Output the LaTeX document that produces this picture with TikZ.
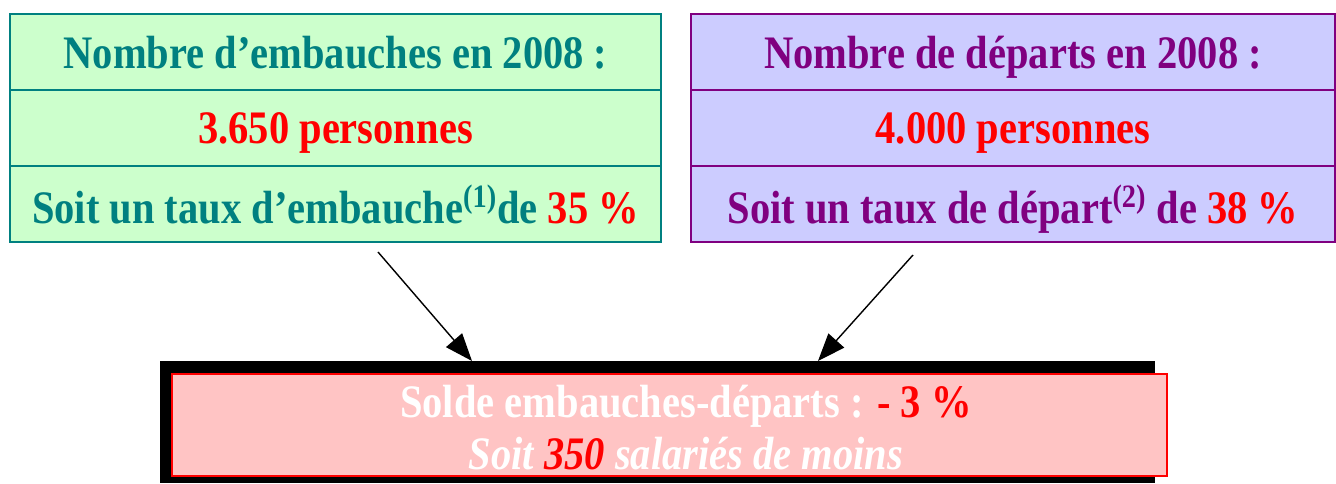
\documentclass[tikz,border=0pt]{standalone}
\usepackage{fontspec}
\setmainfont[FakeStretch=0.87]{Liberation Serif}
\usetikzlibrary{arrows.meta}

\definecolor{embText}{RGB}{0,128,128}
\definecolor{embFill}{RGB}{204,255,204}
\definecolor{depText}{RGB}{128,0,128}
\definecolor{depFill}{RGB}{204,204,255}
\definecolor{soldeFill}{RGB}{255,196,196}

\newcommand{\RowH}{1.52}
\newcommand{\BigFont}{\fontsize{26.5}{30}\selectfont\bfseries}

\tikzset{
  rowbox/.style={draw, line width=1pt, minimum height=\RowH cm, inner sep=0pt,
    text depth=0pt, font=\BigFont},
  embrow/.style={rowbox, draw=embText, fill=embFill, text=embText, minimum width=13.02cm},
  deprow/.style={rowbox, draw=depText, fill=depFill, text=depText, minimum width=12.88cm},
  flow/.style={line width=0.8pt, -{Triangle[length=0.55cm,width=0.42cm]}}
}

\begin{document}
\begin{tikzpicture}
\useasboundingbox (0,0) rectangle (26.72,-9.68);

% left block : embauches
\node[embrow] (E1) at (6.71,-1.04) {Nombre d’embauches en 2008 :};
\node[embrow,text=red] (E2) at (6.71,-2.56) {3.650 personnes};
\node[embrow] (E3) at (6.71,-4.08) {Soit un taux d’embauche\textsuperscript{(1)}de \textcolor{red}{35 \%}};

% right block : departs
\node[deprow] (D1) at (20.26,-1.04) {Nombre de départs en 2008 :};
\node[deprow,text=red] (D2) at (20.26,-2.56) {4.000 personnes};
\node[deprow] (D3) at (20.26,-4.08) {Soit un taux de départ\textsuperscript{(2)} de \textcolor{red}{38 \%}};

% bottom block : solde
\node[fill=black, minimum width=19.9cm, minimum height=2.44cm, inner sep=0pt] (frame) at (13.15,-8.44) {};
\node[draw=red, line width=1pt, fill=soldeFill, minimum width=19.9cm, minimum height=2.04cm, inner sep=0pt] (solde) at (13.39,-8.5) {};
\node[align=center, text=white, font=\BigFont, inner sep=0pt] (soldeText) at (13.72,-8.55)
  {Solde embauches-départs : \textcolor{red}{- 3 \%}\\
   \itshape Soit \textcolor{red}{350} salariés de moins};

\coordinate (fromE) at (7.56,-5.04);
\coordinate (fromD) at (18.26,-5.10);
\coordinate (toE) at (9.44,-7.22);
\coordinate (toD) at (16.36,-7.22);

\draw[flow] (fromE) -- (toE);% embauches
\draw[flow] (fromD) -- (toD);% departs
\end{tikzpicture}
\end{document}
